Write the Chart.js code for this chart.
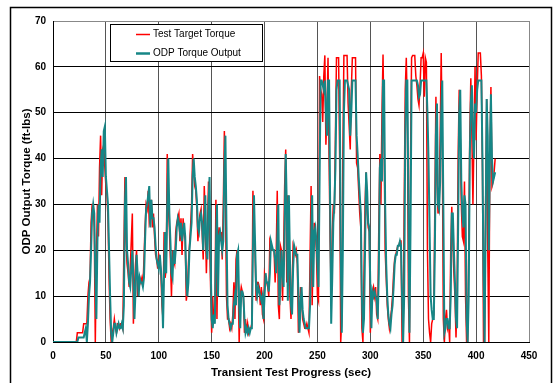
<!DOCTYPE html>
<html>
<head>
<meta charset="utf-8">
<script src="https://cdn.jsdelivr.net/npm/chart.js@4.4.0/dist/chart.umd.min.js"></script>
<style>
  html, body { margin: 0; padding: 0; background: #fff; }
  #wrap { position: relative; width: 553px; height: 383px; }
</style>
</head>
<body>
<div id="wrap"><canvas id="torqueChart" width="553" height="383"></canvas></div>
<script>
// one sample per second, starting at 0 sec
var targetTorque = [
  0, 0, 0, 0, 0, 0, 0, 0, 0, 0,
  0, 0, 0, 0, 0, 0, 0, 0, 0, 0,
  0, 0, 0, 2, 2, 2, 2, 2, 2, 4,
  4, 4, 4, 10, 13, 14, 26, 30, 30, 25,
  0, 18, 30, 23, 38, 45, 32, 42, 43, 38,       // 40
  34, 32, 27, 14, 5, 0, 2, 3, 5, 3,
  2, 4, 4, 3, 4, 4, 3, 20, 36, 22,
  17, 15, 12, 16, 22, 28, 4, 12, 17, 20,
  10, 13, 14, 13, 14, 12, 18, 25, 30, 29,
  33, 26, 27, 31, 25, 28, 23, 19, 18, 16,
  19, 18, 15, 8, 5, 24, 14, 16, 41, 30,        // 100
  25, 18, 10, 20, 18, 17, 24, 26, 27, 28,
  22, 27, 19, 27, 24, 22, 9, 11, 17, 21,
  25, 30, 41, 37, 34, 33, 29, 22, 26, 28,
  29, 24, 18, 34, 26, 15, 24, 35, 22, 12,
  2, 10, 4, 6, 31, 5, 22, 25, 22, 24,          // 150
  18, 30, 46, 32, 10, 5, 5, 3, 4, 3,
  6, 13, 5, 18, 20, 15, 0, 10, 12, 11,
  10, 2, 5, 2, 4, 2, 3, 3, 4, 33,
  25, 20, 9, 13, 13, 12, 8, 12, 6, 5,
  15, 14, 13, 12, 10, 22, 21, 20, 20, 20,      // 200
  13, 19, 33, 8, 5, 21, 20, 9, 20, 34,
  42, 13, 32, 26, 10, 5, 12, 21, 20, 19,
  20, 17, 2, 5, 12, 10, 5, 4, 3, 3,
  4, 3, 2, 18, 34, 8, 20, 26, 24, 20,
  10, 9, 58, 55, 54, 48, 58, 62.5, 43, 50,     // 250
  62, 40, 22, 10, 24, 30, 28, 45, 62, 62,
  62, 40, 0, 5, 40, 62.5, 62.5, 62.5, 62.5, 52,
  47, 42, 55, 62, 62, 62, 62, 39, 38, 33,
  28, 25, 3, 0, 15, 30, 37, 28, 25, 24,
  2, 10, 11, 12, 10, 12, 6, 5, 25, 41,         // 300
  30, 50, 62.7, 45, 20, 14, 8, 5, 3, 5,
  7, 10, 15, 18, 19, 20, 21, 21, 22, 22,
  0, 0, 30, 55, 62, 50, 10, 0, 40, 62,
  62.5, 62.5, 62.5, 58, 56, 53, 51.6, 56, 62, 62,
  63, 53.5, 62, 61, 20, 5, 2, 0, 4, 5,         // 350
  6, 30, 53.5, 35, 28, 30, 45, 63, 45, 5,
  0, 5, 7, 3, 4, 0, 20, 29.5, 22, 15,
  10, 1, 10, 40, 55, 45, 30, 23, 22, 35,
  10, 0, 0, 20, 45, 57.5, 45, 30, 45, 60,
  44, 55, 63, 63, 63, 58, 38, 0, 0, 30,        // 400
  53, 20, 0, 40, 55.6, 34, 35, 37, 40
];

var outputTorque = [
  0, 0, 0, 0, 0, 0, 0, 0, 0, 0,
  0, 0, 0, 0, 0, 0, 0, 0, 0, 0,
  0, 0, 0, 0, 1, 1, 1, 1, 1, 1,
  2, 3, 0, 4, 10, 13, 20, 28, 30, 28,
  15, 5, 22, 30, 26, 38, 42, 36, 46, 47,       // 40
  36, 33, 30, 20, 10, 2, 0, 2, 4, 4,
  2, 3, 4, 3, 3, 4, 3, 8, 30, 36,
  20, 17, 13, 12, 16, 20, 14, 5, 11, 19,
  15, 10, 14, 13, 13, 12, 14, 22, 29, 30,
  32, 34, 25, 31, 27, 27, 25, 21, 18, 17,
  16, 19, 16, 12, 3, 15, 24, 15, 30, 40,       // 100
  28, 22, 15, 14, 20, 17, 20, 25, 27, 26,
  24, 26, 22, 24, 26, 23, 14, 10, 13, 20,
  23, 26, 36, 40, 36, 34, 31, 25, 24, 27,
  28, 26, 20, 25, 32, 20, 18, 30, 36, 18,
  5, 3, 6, 4, 20, 30, 10, 23, 24, 22,          // 150
  20, 22, 38, 45, 25, 8, 5, 4, 3, 4,
  4, 8, 10, 8, 19, 20, 8, 3, 11, 11,
  10, 5, 2, 3, 2, 3, 2, 3, 3, 20,
  32, 22, 12, 10, 12, 11, 10, 9, 10, 5,
  10, 15, 13, 13, 11, 15, 22, 21, 20, 20,      // 200
  18, 15, 22, 30, 8, 12, 20, 15, 12, 25,
  41, 30, 9, 32, 18, 8, 6, 16, 21, 20,
  19, 19, 10, 2, 8, 12, 7, 5, 4, 3,
  3, 3, 3, 8, 22, 32, 12, 24, 25, 22,
  17, 12, 35, 57, 57, 56, 55, 57, 50, 45,      // 250
  57, 57, 30, 4, 14, 26, 30, 38, 55, 57,
  57, 57, 20, 2, 20, 50, 57, 57, 57, 56,
  55, 45, 50, 57, 57, 57, 57, 45, 41, 36,
  32, 28, 10, 2, 5, 20, 37, 33, 26, 25,
  12, 3, 11, 10, 11, 10, 9, 5, 15, 38,         // 300
  40, 35, 57, 57, 30, 17, 10, 6, 4, 3,
  6, 8, 12, 17, 19, 19, 21, 21, 22, 21,
  10, 0, 10, 45, 57, 57, 30, 2, 25, 57,
  57, 57, 57, 57, 57, 56, 53.4, 54, 57, 57,
  57, 57, 57, 57, 50, 40, 25, 10, 7, 5,        // 350
  5, 20, 45, 52, 30, 29, 35, 50, 57, 30,
  2, 3, 5, 5, 3, 3, 10, 28, 28, 20,
  13, 5, 3, 25, 50, 55, 35, 28, 25, 32,
  30, 5, 0, 10, 40, 52, 56, 45, 40, 52,
  50, 55, 57, 57, 57, 57, 40, 15, 0, 25,       // 400
  53, 45, 20, 40, 54, 40, 35, 36, 37
];

var seriesNames = ['Test Target Torque', 'ODP Torque Output'];
var seriesColors = ['#ff0000', '#168686'];

function toPoints(values) {
  return values.map(function (v, i) { return { x: i, y: v }; });
}

// outer frame + legend box inside the plot
var framePlugin = {
  id: 'framePlugin',
  beforeDraw: function (chart) {
    var c = chart.ctx;
    c.save();
    c.fillStyle = '#fff';
    c.fillRect(0, 0, chart.width, chart.height);
    c.strokeStyle = '#000';
    c.lineWidth = 1.5;
    c.strokeRect(10.5, 7.5, 541, 390);
    c.restore();
  },
  afterDraw: function (chart) {
    var c = chart.ctx;
    c.save();
    c.fillStyle = '#fff';
    c.fillRect(110.5, 24.5, 152, 37);
    c.strokeStyle = '#000';
    c.lineWidth = 1;
    c.strokeRect(110.5, 24.5, 152, 37);
    c.font = '10px "Liberation Sans", Arial, sans-serif';
    c.textBaseline = 'middle';
    var rows = [34.5, 53.5];
    for (var i = 0; i < 2; i++) {
      c.strokeStyle = seriesColors[i];
      c.lineWidth = i === 0 ? 1.5 : 2.5;
      c.beginPath();
      c.moveTo(136, rows[i]);
      c.lineTo(150, rows[i]);
      c.stroke();
      c.fillStyle = '#000';
      c.fillText(seriesNames[i], 153, rows[i]);
    }
    c.restore();
  }
};

var ctx = document.getElementById('torqueChart').getContext('2d');
new Chart(ctx, {
  type: 'line',
  data: {
    datasets: [{
      label: seriesNames[0],
      data: toPoints(targetTorque),
      borderColor: seriesColors[0],
      borderWidth: 1.5,
      pointRadius: 0,
      tension: 0,
      order: 1
    }, {
      label: seriesNames[1],
      data: toPoints(outputTorque),
      borderColor: seriesColors[1],
      borderWidth: 2,
      pointRadius: 0,
      tension: 0,
      order: 0
    }]
  },
  options: {
    responsive: false,
    animation: false,
    layout: { padding: { top: 21, right: 24, left: 0, bottom: 0 } },
    plugins: {
      legend: { display: false },
      tooltip: { enabled: false }
    },
    scales: {
      x: {
        type: 'linear',
        min: 0,
        max: 450,
        ticks: {
          stepSize: 50,
          color: '#000',
          padding: 8,
          maxRotation: 0,
          font: { family: '"Liberation Sans", Arial, sans-serif', size: 10, weight: 'bold' }
        },
        grid: {
          drawTicks: false,
          color: function (c) { return c.tick && c.tick.value === 450 ? '#888' : '#555'; }
        },
        border: { color: '#000', width: 1 },
        title: {
          display: true,
          text: 'Transient Test Progress (sec)',
          color: '#000',
          padding: { top: 0, bottom: 3 },
          font: { family: '"Liberation Sans", Arial, sans-serif', size: 11.5, weight: 'bold' }
        },
        afterFit: function (scale) { scale.height = 41; }
      },
      y: {
        min: 0,
        max: 70,
        ticks: {
          stepSize: 10,
          color: '#000',
          padding: 7,
          font: { family: '"Liberation Sans", Arial, sans-serif', size: 10, weight: 'bold' }
        },
        grid: {
          drawTicks: false,
          color: function (c) { return c.tick && c.tick.value === 70 ? '#888' : '#000'; }
        },
        border: { color: '#000', width: 1 },
        title: {
          display: true,
          text: 'ODP Output Torque (ft-lbs)',
          color: '#000',
          padding: { top: 20, bottom: 0 },
          font: { family: '"Liberation Sans", Arial, sans-serif', size: 11.5, weight: 'bold' }
        },
        afterFit: function (scale) { scale.width = 53; }
      }
    }
  },
  plugins: [framePlugin]
});
</script>
</body>
</html>
